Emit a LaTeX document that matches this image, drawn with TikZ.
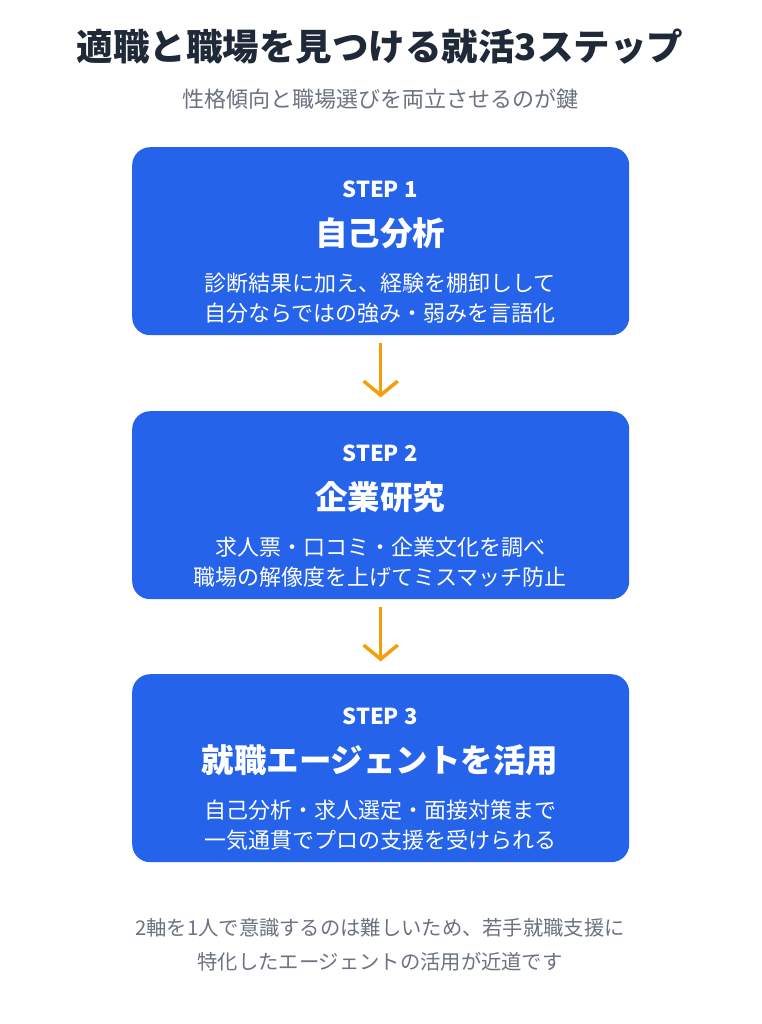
\documentclass[tikz,border=0pt]{standalone}
\usepackage{fontspec}
\setmainfont{Noto Sans CJK JP}
\usetikzlibrary{arrows.meta}
\definecolor{boxblue}{HTML}{2563EB}
\definecolor{arr}{HTML}{F59E0B}
\definecolor{dark}{HTML}{1F2937}
\definecolor{gry}{HTML}{6B7280}
\tikzset{
 stepbox/.style={fill=boxblue,rounded corners=18pt,minimum width=497pt,minimum height=188pt,anchor=north west,inner sep=0pt},
 txt/.style={inner sep=0pt,anchor=center,align=center},
 flow/.style={draw=arr,line width=3.5pt,-{Straight Barb[length=14pt,width=34pt,line width=3.5pt]}}
}
\begin{document}
\begin{tikzpicture}[x=1pt,y=1pt]
\useasboundingbox[fill=white] (0,0) rectangle (761,-1024);
\node[txt,text=dark,font=\fontsize{36.5}{40}\selectfont\bfseries] (title) at (380,-47) {適職と職場を見つける就活3ステップ};
\node[txt,text=gry,font=\fontsize{22}{25}\selectfont] (sub) at (380,-99) {性格傾向と職場選びを両立させるのが鍵};
\foreach \i/\y/\s/\h/\a/\b in {1/147/STEP 1/自己分析/診断結果に加え、経験を棚卸しして/自分ならではの強み・弱みを言語化,
 2/411/STEP 2/企業研究/求人票・口コミ・企業文化を調べ/職場の解像度を上げてミスマッチ防止,
 3/674/STEP 3/就職エージェントを活用/自己分析・求人選定・面接対策まで/一気通貫でプロの支援を受けられる}{
 \node[stepbox] (b\i) at (132,-\y) {};
 \node[txt,text=white,font=\fontsize{22}{25}\selectfont\bfseries] (s\i) at (380,-\y-42) {\s};
 \node[txt,text=white,font=\fontsize{32.5}{36}\selectfont\bfseries] (h\i) at (380,-\y-86) {\h};
 \node[txt,text=white,font=\fontsize{22}{25}\selectfont] (l\i) at (380,-\y-136) {\a};
 \node[txt,text=white,font=\fontsize{22}{25}\selectfont] (m\i) at (380,-\y-166) {\b};
}
\draw[flow] ([yshift=-8pt]b1.south) -- ([yshift=-62pt]b1.south);
\draw[flow] ([yshift=-8pt]b2.south) -- ([yshift=-62pt]b2.south);
\node[txt,text=gry,font=\fontsize{20.3}{23}\selectfont] (f1) at (380,-928) {2軸を1人で意識するのは難しいため、若手就職支援に};
\node[txt,text=gry,font=\fontsize{20.3}{23}\selectfont] (f2) at (380,-962) {特化したエージェントの活用が近道です};
\end{tikzpicture}
\end{document}
